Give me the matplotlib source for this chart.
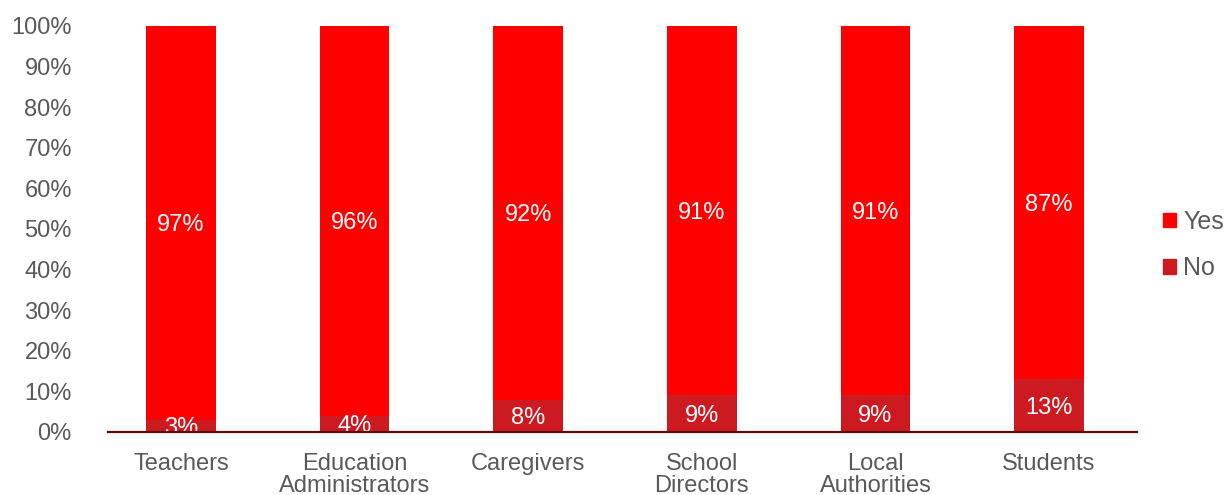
import matplotlib
matplotlib.use("Agg")
import matplotlib.pyplot as plt
from matplotlib.patches import Patch

plt.rcParams['font.family'] = ['Liberation Sans', 'DejaVu Sans']

categories = ["Teachers", "Education\nAdministrators", "Caregivers",
              "School\nDirectors", "Local\nAuthorities", "Students"]
no_vals = [3, 4, 8, 9, 9, 13]
yes_vals = [97, 96, 92, 91, 91, 87]
yticks = [0, 10, 20, 30, 40, 50, 60, 70, 80, 90, 100]

yes_color = "#FF0000"
no_color = "#CC1A20"

fig = plt.figure(figsize=(12.27, 4.95), dpi=100)
ax = fig.add_axes([0.088, 0.1273, 0.8387, 0.8202])

x = list(range(len(categories)))
w = 0.40
ax.bar(x, no_vals, width=w, color=no_color, label="No")
ax.bar(x, yes_vals, width=w, bottom=no_vals, color=yes_color, label="Yes")

lab_fs = 17
cap_off = -0.716 * lab_fs / 2
for i in x:
    ax.annotate(f"{no_vals[i]}%", (i, no_vals[i] / 2), xytext=(0, cap_off),
                textcoords="offset points", ha="center", va="baseline",
                color="white", fontsize=lab_fs, annotation_clip=False, clip_on=True)
    ax.annotate(f"{yes_vals[i]}%", (i, no_vals[i] + yes_vals[i] / 2),
                xytext=(0, cap_off), textcoords="offset points", ha="center",
                va="baseline", color="white", fontsize=lab_fs)

ax.set_xlim(-0.42, 5.507)
ax.set_ylim(0, 100)
ax.set_yticks(yticks)
ax.set_yticklabels([f"{t}%" for t in yticks])
ax.set_xticks(x)
ax.set_xticklabels(categories, linespacing=1.0, va="top")
ax.tick_params(axis="y", length=0, pad=26, labelsize=17, labelcolor="#595959")
ax.tick_params(axis="x", length=0, pad=15, labelsize=17, labelcolor="#595959")

for s in ["top", "right", "left"]:
    ax.spines[s].set_visible(False)
ax.spines["bottom"].set_color("#5C0A0A")
ax.spines["bottom"].set_linewidth(1.6)
ax.spines["bottom"].set_zorder(5)

handles = [Patch(color=yes_color, label="Yes"), Patch(color=no_color, label="No")]
fig.legend(handles=handles, loc="center left", bbox_to_anchor=(0.944, 0.505),
           frameon=False, fontsize=18, handlelength=0.5, handleheight=0.5,
           handletextpad=0.3, labelspacing=0.9, labelcolor="#595959",
           borderaxespad=0.0, borderpad=0.2)

fig.savefig("out.png", dpi=100)
